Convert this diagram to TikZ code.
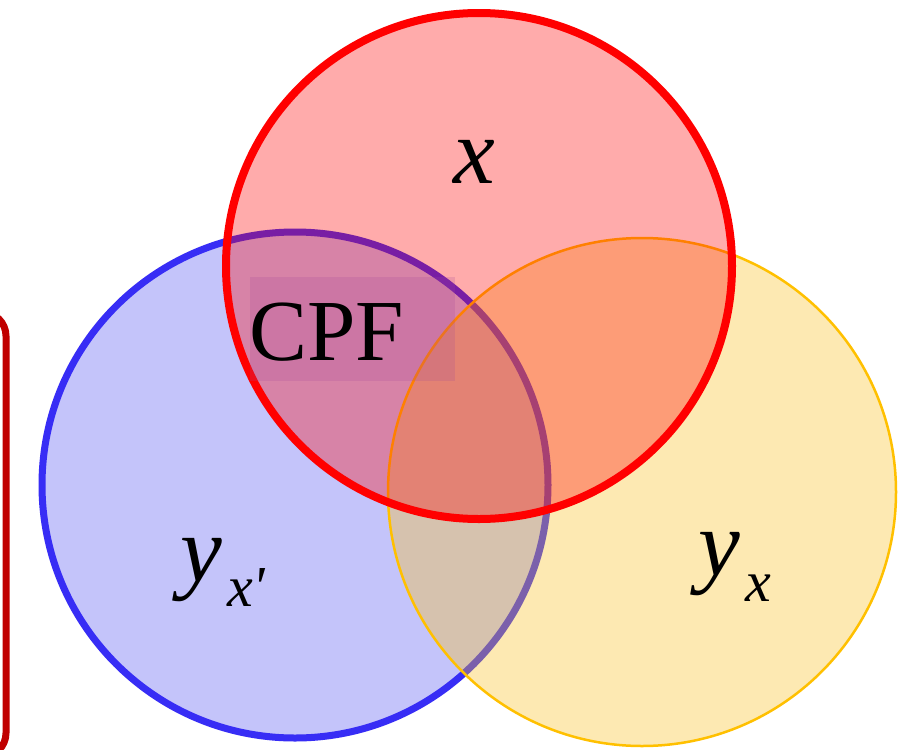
\documentclass[tikz,border=0pt]{standalone}
\usepackage{fontspec}
\setmainfont{Liberation Serif}[Ligatures=NoCommon]
\newfontfamily\tnr{Liberation Serif}[ItalicFont={Liberation Serif Italic}]
\definecolor{bluefill}{RGB}{196,196,250}
\definecolor{bluestroke}{RGB}{55,45,245}
\definecolor{goldfill}{RGB}{250,192,35}
\definecolor{goldstroke}{RGB}{255,192,0}
\definecolor{redc}{RGB}{255,0,0}
\definecolor{darkredc}{RGB}{192,0,0}
\definecolor{boxc}{RGB}{160,70,155}
\tikzset{
  bigletter/.style={inner sep=0pt, font=\tnr\itshape\fontsize{94}{100}\selectfont},
  subletter/.style={inner sep=0pt, font=\tnr\itshape\fontsize{58}{62}\selectfont},
}
\begin{document}
\begin{tikzpicture}[x=1pt,y=-1pt]
\useasboundingbox (0,0) rectangle (919,750);
\clip (0,0) rectangle (919,750);
\fill[white] (0,0) rectangle (919,750);
% left frame (partially visible)
\draw[darkredc, line width=7pt, rounded corners=24pt] (-100,312) rectangle (6,757);
% blue circle
\draw[bluestroke, fill=bluefill, line width=7pt] (295,485) circle[radius=253];
% gold circle
\fill[goldfill, fill opacity=0.35] (642,492) circle[radius=254];
\draw[goldstroke, line width=2.5pt] (642,492) circle[radius=254];
% red circle
\fill[redc, fill opacity=0.33] (479,266) circle[radius=253];
\draw[redc, line width=8pt] (479,266) circle[radius=253];
% CPF box
\fill[boxc, fill opacity=0.2] (250,277) rectangle (455,381);
\node[inner sep=0pt, anchor=base west, font=\tnr\fontsize{87}{92}\selectfont] (cpf) at (249,360) {CPF};
% labels
\node[bigletter, anchor=base] (xlab) at (474,183) {x};
\node[bigletter, anchor=base] (y1) at (201,581) {y};
\node[subletter, anchor=base west] (s1) at (227,606) {x\char"0027};
\node[bigletter, anchor=base] (y2) at (719,575) {y};
\node[subletter, anchor=base west] (s2) at (745,601) {x};
\end{tikzpicture}
\end{document}
